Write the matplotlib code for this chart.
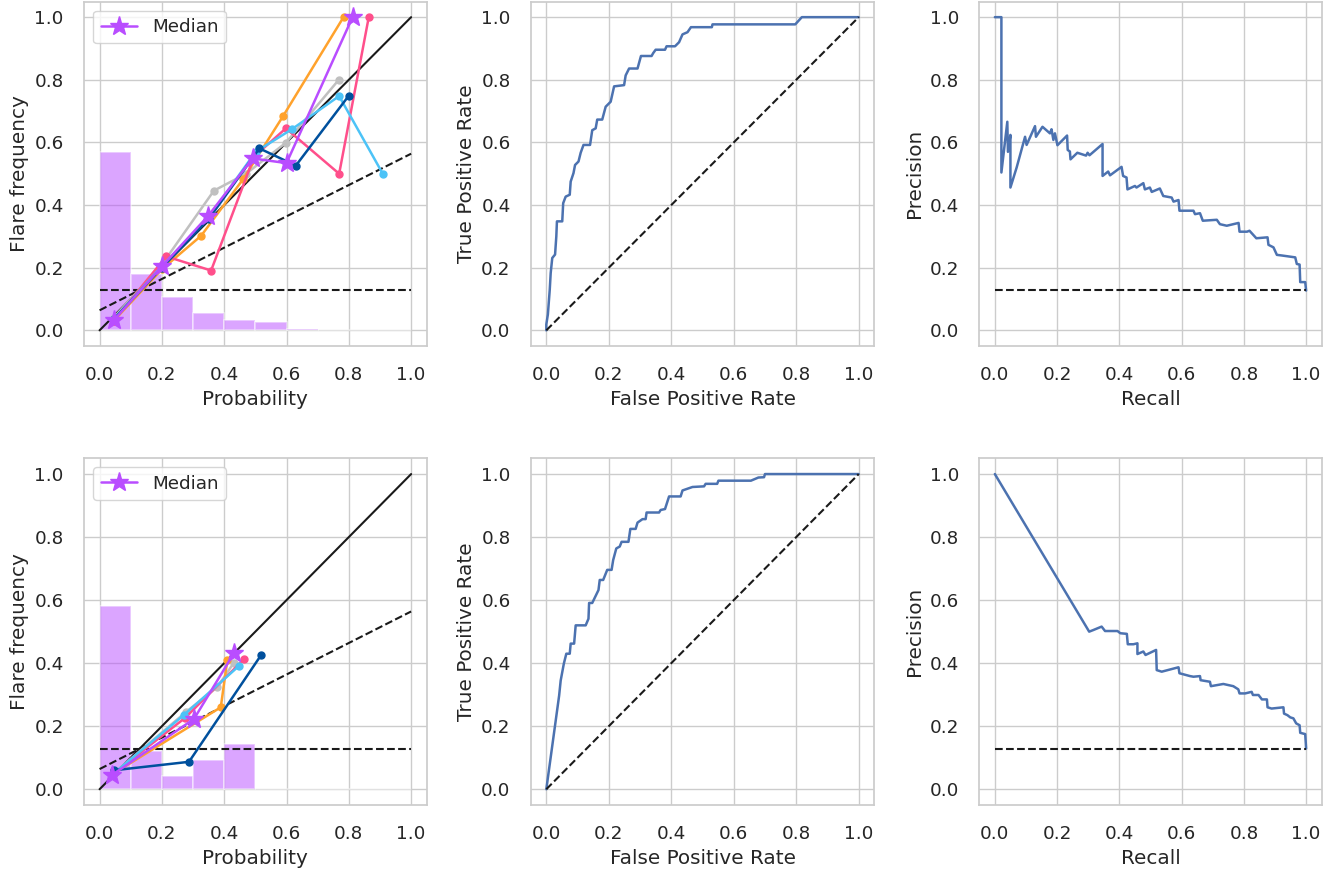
import numpy as np
import matplotlib
matplotlib.use("Agg")
import matplotlib.pyplot as plt
import seaborn as sns

# climatology (flare base rate)
clim = 0.128

# ---- calibration, top row ----
top_hist = [0.570, 0.180, 0.106, 0.054, 0.033, 0.026, 0.003, 0.001, 0.0, 0.001]
top_cal = {
    "gray":   ([0.045, 0.20, 0.367, 0.47, 0.598, 0.767], [0.04, 0.21, 0.446, 0.50, 0.599, 0.799]),
    "orange": ([0.045, 0.20, 0.326, 0.461, 0.589, 0.783], [0.03, 0.195, 0.302, 0.483, 0.684, 1.0]),
    "pink":   ([0.045, 0.214, 0.358, 0.496, 0.598, 0.769, 0.864], [0.03, 0.236, 0.191, 0.555, 0.645, 0.50, 1.0]),
    "lblue":  ([0.045, 0.20, 0.35, 0.501, 0.617, 0.769, 0.909], [0.035, 0.205, 0.36, 0.57, 0.642, 0.748, 0.50]),
    "dblue":  ([0.045, 0.20, 0.35, 0.513, 0.630, 0.799], [0.035, 0.20, 0.355, 0.581, 0.526, 0.748]),
}
top_med_x = [0.046, 0.201, 0.349, 0.491, 0.600, 0.812]
top_med_y = [0.033, 0.205, 0.366, 0.549, 0.534, 1.0]

# ---- calibration, bottom row ----
bot_hist = [0.581, 0.122, 0.042, 0.093, 0.144, 0.0, 0.0, 0.0, 0.0, 0.0]
bot_cal = {
    "gray":   ([0.045, 0.276, 0.378, 0.43], [0.05, 0.244, 0.324, 0.40]),
    "orange": ([0.045, 0.389, 0.41], [0.05, 0.26, 0.41]),
    "pink":   ([0.045, 0.274, 0.464], [0.05, 0.226, 0.413]),
    "lblue":  ([0.045, 0.27, 0.446], [0.05, 0.235, 0.39]),
    "dblue":  ([0.045, 0.287, 0.518], [0.06, 0.087, 0.425]),
}
bot_med_x = [0.041, 0.303, 0.432]
bot_med_y = [0.046, 0.223, 0.433]

# ---- ROC curves ----
roc_top_fpr = [0, 0, 0.005, 0.011, 0.014, 0.019, 0.028, 0.032, 0.034, 0.051, 0.054, 0.062, 0.075, 0.078,
               0.087, 0.092, 0.103, 0.110, 0.119, 0.140, 0.147, 0.158, 0.163, 0.179, 0.190, 0.206, 0.217,
               0.249, 0.254, 0.265, 0.292, 0.303, 0.337, 0.342, 0.350, 0.380, 0.385, 0.412, 0.425, 0.436,
               0.452, 0.463, 0.530, 0.532, 0.797, 0.818, 1.0]
roc_top_tpr = [0, 0.019, 0.051, 0.13, 0.183, 0.231, 0.242, 0.30, 0.348, 0.348, 0.406, 0.427, 0.433, 0.475,
               0.502, 0.528, 0.539, 0.567, 0.592, 0.592, 0.639, 0.645, 0.673, 0.673, 0.714, 0.730, 0.779,
               0.783, 0.814, 0.836, 0.836, 0.876, 0.876, 0.885, 0.896, 0.896, 0.907, 0.907, 0.920, 0.945,
               0.952, 0.968, 0.968, 0.977, 0.977, 1.0, 1.0]
roc_bot_fpr = [0, 0.041, 0.046, 0.056, 0.064, 0.075, 0.078, 0.089, 0.094, 0.126, 0.135, 0.137, 0.147, 0.167,
               0.171, 0.182, 0.195, 0.209, 0.214, 0.224, 0.235, 0.241, 0.263, 0.269, 0.286, 0.292, 0.308,
               0.318, 0.321, 0.361, 0.366, 0.380, 0.393, 0.430, 0.436, 0.468, 0.505, 0.510, 0.547, 0.551,
               0.655, 0.679, 0.697, 0.700, 1.0]
roc_bot_tpr = [0, 0.297, 0.345, 0.398, 0.430, 0.430, 0.462, 0.462, 0.520, 0.520, 0.541, 0.591, 0.591, 0.632,
               0.664, 0.664, 0.696, 0.696, 0.727, 0.764, 0.770, 0.785, 0.785, 0.826, 0.826, 0.846, 0.857,
               0.857, 0.878, 0.878, 0.886, 0.889, 0.929, 0.929, 0.948, 0.959, 0.961, 0.969, 0.969, 0.979,
               0.979, 0.989, 0.990, 1.0, 1.0]

# ---- precision-recall curves ----
pr_top_rec = [0, 0.021, 0.021, 0.040, 0.042, 0.050, 0.050, 0.070, 0.097, 0.102, 0.129, 0.132, 0.153, 0.177,
              0.182, 0.188, 0.193, 0.201, 0.232, 0.234, 0.241, 0.243, 0.265, 0.293, 0.298, 0.304, 0.346,
              0.346, 0.364, 0.370, 0.407, 0.412, 0.423, 0.426, 0.450, 0.455, 0.477, 0.482, 0.498, 0.504,
              0.530, 0.541, 0.568, 0.574, 0.590, 0.593, 0.638, 0.643, 0.659, 0.668, 0.713, 0.723, 0.745,
              0.783, 0.786, 0.810, 0.818, 0.840, 0.876, 0.879, 0.895, 0.906, 0.922, 0.965, 0.970, 0.979,
              0.981, 0.997, 1.0]
pr_top_prec = [1.0, 1.0, 0.504, 0.666, 0.57, 0.624, 0.456, 0.52, 0.618, 0.592, 0.652, 0.618, 0.65, 0.629,
               0.642, 0.608, 0.629, 0.591, 0.622, 0.576, 0.571, 0.546, 0.567, 0.558, 0.567, 0.559, 0.595,
               0.493, 0.507, 0.495, 0.522, 0.493, 0.488, 0.450, 0.461, 0.456, 0.470, 0.450, 0.456, 0.442,
               0.453, 0.429, 0.424, 0.411, 0.416, 0.382, 0.382, 0.371, 0.374, 0.350, 0.353, 0.339, 0.334,
               0.343, 0.315, 0.315, 0.318, 0.294, 0.297, 0.273, 0.265, 0.241, 0.239, 0.233, 0.212, 0.210,
               0.154, 0.154, 0.127]
pr_bot_rec = [0, 0.303, 0.316, 0.343, 0.354, 0.394, 0.403, 0.424, 0.427, 0.445, 0.458, 0.458, 0.477, 0.484,
              0.518, 0.520, 0.536, 0.590, 0.593, 0.627, 0.638, 0.659, 0.661, 0.691, 0.694, 0.734, 0.766,
              0.782, 0.786, 0.804, 0.825, 0.829, 0.847, 0.858, 0.874, 0.876, 0.889, 0.927, 0.929, 0.940,
              0.949, 0.959, 0.968, 0.979, 0.981, 0.997, 1.0]
pr_bot_prec = [1.0, 0.5, 0.505, 0.516, 0.502, 0.502, 0.495, 0.493, 0.460, 0.460, 0.463, 0.429, 0.437, 0.426,
               0.442, 0.378, 0.373, 0.387, 0.368, 0.359, 0.357, 0.359, 0.346, 0.341, 0.327, 0.334, 0.327,
               0.317, 0.304, 0.304, 0.309, 0.299, 0.299, 0.285, 0.285, 0.260, 0.256, 0.260, 0.240, 0.235,
               0.228, 0.225, 0.209, 0.203, 0.179, 0.175, 0.129]

colors = {"gray": "#c0c0c0", "orange": "#ffa22c", "pink": "#ff4f8b",
          "lblue": "#4cc3f7", "dblue": "#00509d"}
purple = "#b94dff"

sns.set_theme(style="whitegrid", font_scale=1.2)

fig, axes = plt.subplots(2, 3, figsize=(13.41, 8.71), dpi=100)

# axes boxes in pixels (left, right) and (top, bottom)
cols = [(84, 426.7), (530.7, 874.3), (979.3, 1321.7)]
rows = [(1.5, 346), (458.3, 805)]
W, H = 1341.0, 871.0
for r, (t, b) in enumerate(rows):
    for c, (l, rr) in enumerate(cols):
        axes[r, c].set_position([l / W, 1 - b / H, (rr - l) / W, (b - t) / H])

bins = np.arange(0, 1, 0.1)
ticks = [0, 0.2, 0.4, 0.6, 0.8, 1.0]


def calib(ax, hist, curves, mx, my):
    ax.bar(bins, hist, width=0.1, align="edge", color=purple, alpha=0.5,
           edgecolor="white", linewidth=1.2, zorder=1)
    ax.plot([0, 1], [0, 1], color="k", lw=1.5, zorder=2)
    ax.plot([0, 1], [clim / 2, (1 + clim) / 2], "k--", lw=1.5, zorder=2)
    ax.plot([0, 1], [clim, clim], "k--", lw=1.5, zorder=2)
    for name, (x, y) in curves.items():
        ax.plot(x, y, "-o", color=colors[name], lw=1.8, ms=5, zorder=3)
    ax.plot(mx, my, "-*", color=purple, lw=1.8, ms=14, zorder=4, label="Median")
    ax.legend(loc="upper left")
    ax.set_xlabel("Probability")
    ax.set_ylabel("Flare frequency")


calib(axes[0, 0], top_hist, top_cal, top_med_x, top_med_y)
calib(axes[1, 0], bot_hist, bot_cal, bot_med_x, bot_med_y)

for r, (fpr, tpr) in enumerate([(roc_top_fpr, roc_top_tpr), (roc_bot_fpr, roc_bot_tpr)]):
    ax = axes[r, 1]
    ax.plot(fpr, tpr, color="#4c72b0", lw=1.8)
    ax.plot([0, 1], [0, 1], "k--", lw=1.5)
    ax.set_xlabel("False Positive Rate")
    ax.set_ylabel("True Positive Rate")

for r, (rec, prec) in enumerate([(pr_top_rec, pr_top_prec), (pr_bot_rec, pr_bot_prec)]):
    ax = axes[r, 2]
    ax.plot(rec, prec, color="#4c72b0", lw=1.8)
    ax.plot([0, 1], [clim, clim], "k--", lw=1.5)
    ax.set_xlabel("Recall")
    ax.set_ylabel("Precision")

for ax in axes.flat:
    ax.set_xlim(-0.05, 1.05)
    ax.set_ylim(-0.05, 1.05)
    ax.set_xticks(ticks)
    ax.set_yticks(ticks)
    ax.tick_params(pad=8.5)

fig.savefig("out.png", dpi=100)
